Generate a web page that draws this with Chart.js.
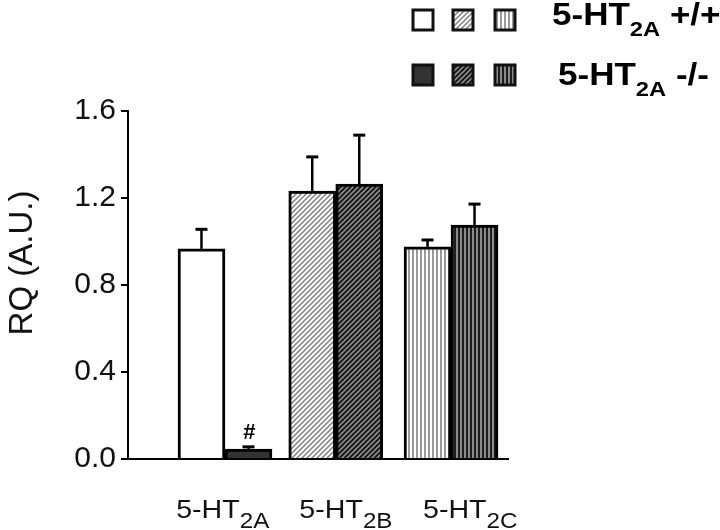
<!DOCTYPE html>
<html>
<head>
<meta charset="utf-8">
<script src="https://cdn.jsdelivr.net/npm/chart.js@4.4.1/dist/chart.umd.min.js"></script>
<style>
  html, body { margin: 0; padding: 0; background: #fff; }
  #wrap { width: 720px; height: 530px; }
</style>
</head>
<body>
<div id="wrap"><canvas id="chart" width="720" height="530"></canvas></div>
<script>
// receptor subtypes: main text + subscript
const receptors = ['5-HT', '5-HT', '5-HT'];
const receptorSubs = ['2A', '2B', '2C'];
// where each group sits on the x axis, and where its label sits
const groupPos = [1, 1.98, 3];
const labelPos = [0.98, 2.07, 3.17];

// RQ values
const wildType = [0.966, 1.232, 0.975];
const wildTypeErr = [0.09, 0.157, 0.032];
const knockOut = [0.046, 1.264, 1.076];
const knockOutErr = [0.01, 0.225, 0.096];

const yTicks = [0, 0.4, 0.8, 1.2, 1.6];

const FONT = '"Liberation Sans", Arial, sans-serif';

// hatch fills
function makePattern(kind, bg, fg) {
  const c = document.createElement('canvas');
  const g = c.getContext('2d');
  if (kind === 'diag') {
    c.width = 5; c.height = 5;
    g.fillStyle = bg; g.fillRect(0, 0, 5, 5);
    g.strokeStyle = fg; g.lineWidth = 1.6;
    g.beginPath();
    g.moveTo(-1, 6); g.lineTo(6, -1);
    g.moveTo(-1, 1); g.lineTo(1, -1);
    g.moveTo(4, 6); g.lineTo(6, 4);
    g.stroke();
  } else if (kind === 'vert') {
    c.width = 4; c.height = 4;
    g.fillStyle = bg; g.fillRect(0, 0, 4, 4);
    g.fillStyle = fg; g.fillRect(0, 0, 2, 4);
  } else {
    c.width = 2; c.height = 2;
    g.fillStyle = bg; g.fillRect(0, 0, 2, 2);
  }
  return g.createPattern(c, 'repeat');
}

const wtFill = [makePattern('solid', '#ffffff'), makePattern('diag', '#ffffff', '#8c8c8c'), makePattern('vert', '#ffffff', '#9a9a9a')];
const koFill = [makePattern('solid', '#333333'), makePattern('diag', '#151515', '#8c8c8c'), makePattern('vert', '#1c1c1c', '#8a8a8a')];

// "main" + lowered subscript + optional tail, stretched sideways by `stretch`
function drawSubText(ctx, x, y, main, sub, tail, mainFont, subFont, drop, align, stretch) {
  ctx.font = mainFont;
  const w1 = ctx.measureText(main).width;
  const w3 = tail ? ctx.measureText(tail).width : 0;
  ctx.font = subFont;
  const w2 = ctx.measureText(sub).width;
  const total = (w1 + w2 + w3) * stretch;
  const sx = align === 'center' ? x - total / 2 : x;
  ctx.save();
  ctx.translate(sx, y);
  ctx.scale(stretch, 1);
  ctx.textAlign = 'left';
  ctx.textBaseline = 'alphabetic';
  ctx.font = mainFont;
  ctx.fillText(main, 0, 0);
  ctx.font = subFont;
  ctx.fillText(sub, w1, drop);
  if (tail) {
    ctx.font = mainFont;
    ctx.fillText(tail, w1 + w2, 0);
  }
  ctx.restore();
}

// upward error bars with caps
const errorBars = {
  id: 'errorBars',
  afterDatasetsDraw(chart) {
    const { ctx } = chart;
    const yScale = chart.scales.y;
    ctx.save();
    ctx.strokeStyle = '#000';
    chart.data.datasets.forEach((ds, di) => {
      chart.getDatasetMeta(di).data.forEach((bar, i) => {
        const top = yScale.getPixelForValue(ds.data[i].y + ds.errors[i]);
        ctx.lineWidth = 2.5;
        ctx.beginPath();
        ctx.moveTo(bar.x, bar.y);
        ctx.lineTo(bar.x, top);
        ctx.stroke();
        ctx.lineWidth = 3;
        ctx.beginPath();
        ctx.moveTo(bar.x - 6, top);
        ctx.lineTo(bar.x + 6, top);
        ctx.stroke();
      });
    });
    ctx.restore();
  }
};

// category labels, axis title, legend and the # mark
const extras = {
  id: 'extras',
  afterDraw(chart) {
    const { ctx } = chart;
    const xScale = chart.scales.x;
    ctx.save();
    ctx.fillStyle = '#111';

    // x category labels
    labelPos.forEach((p, i) => {
      drawSubText(ctx, xScale.getPixelForValue(p), 518, receptors[i], receptorSubs[i], '',
        '26px ' + FONT, '22px ' + FONT, 10, 'center', 1.1);
    });

    // y axis title
    ctx.save();
    ctx.translate(32, 263);
    ctx.rotate(-Math.PI / 2);
    ctx.font = '33px ' + FONT;
    ctx.textAlign = 'center';
    ctx.textBaseline = 'alphabetic';
    ctx.fillText('RQ (A.U.)', 0, 0);
    ctx.restore();

    // # over the knockout 5-HT2A bar
    const koBar = chart.getDatasetMeta(1).data[0];
    ctx.fillStyle = '#000';
    ctx.font = 'bold 22px ' + FONT;
    ctx.textAlign = 'center';
    ctx.textBaseline = 'middle';
    ctx.fillText('#', koBar.x + 1, koBar.y - 16);

    // legend
    const boxX = [413, 453, 495];
    const rows = [
      { y: 10, fills: wtFill, tail: ' +/+', tx: 552, ty: 25 },
      { y: 65, fills: koFill, tail: ' -/-', tx: 558, ty: 85 }
    ];
    rows.forEach(r => {
      boxX.forEach((bx, k) => {
        ctx.fillStyle = r.fills[k];
        ctx.fillRect(bx, r.y, 20, 20);
        ctx.lineWidth = 3;
        ctx.strokeStyle = '#111';
        ctx.strokeRect(bx, r.y, 20, 20);
      });
      ctx.fillStyle = '#000';
      drawSubText(ctx, r.tx, r.ty, '5-HT', '2A', r.tail, 'bold 31px ' + FONT, 'bold 21px ' + FONT, 11, 'left', 1.13);
    });
    ctx.restore();
  }
};

new Chart(document.getElementById('chart'), {
  type: 'bar',
  data: {
    datasets: [
      {
        label: '5-HT2A +/+',
        data: groupPos.map((x, i) => ({ x: x, y: wildType[i] })),
        errors: wildTypeErr,
        backgroundColor: wtFill,
        borderColor: '#000',
        borderWidth: 3,
        barThickness: 47
      },
      {
        label: '5-HT2A -/-',
        data: groupPos.map((x, i) => ({ x: x, y: knockOut[i] })),
        errors: knockOutErr,
        backgroundColor: koFill,
        borderColor: '#000',
        borderWidth: 3,
        barThickness: 47
      }
    ]
  },
  options: {
    responsive: false,
    animation: false,
    layout: { padding: { top: 111, right: 212, left: 0, bottom: 0 } },
    plugins: {
      legend: { display: false },
      tooltip: { enabled: false }
    },
    scales: {
      x: {
        type: 'linear',
        offset: false,
        min: 0.142,
        max: 3.504,
        grid: { offset: false, drawOnChartArea: false, drawTicks: false },
        border: { display: true, color: '#000', width: 2 },
        ticks: { display: false },
        afterFit(s) { s.height = 71; }
      },
      y: {
        min: 0,
        max: 1.6,
        afterBuildTicks(s) { s.ticks = yTicks.map(v => ({ value: v })); },
        ticks: {
          callback: v => v.toFixed(1),
          font: { family: FONT, size: 30 },
          color: '#111',
          padding: 5
        },
        grid: { drawOnChartArea: false, drawTicks: true, tickLength: 7, color: '#000', lineWidth: 2 },
        border: { display: true, color: '#000', width: 2 },
        afterFit(s) { s.width = 128; }
      }
    }
  },
  plugins: [errorBars, extras]
});
</script>
</body>
</html>
